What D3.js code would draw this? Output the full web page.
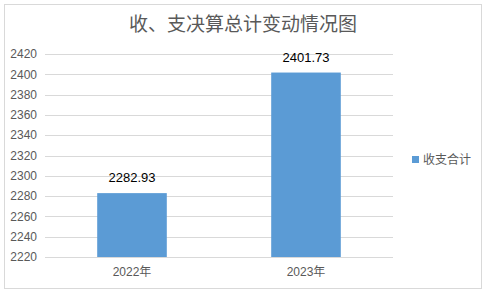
<!DOCTYPE html>
<html>
<head>
<meta charset="utf-8">
<script src="https://cdn.jsdelivr.net/npm/d3@7"></script>
<style>
  body { margin: 0; background: #fff; }
  text { font-family: "Liberation Sans", "Noto Sans CJK SC", sans-serif; }
</style>
</head>
<body>
<svg width="486" height="294"></svg>
<script>
const BAR_COLOR = '#5b9bd5';
const GRID_COLOR = '#d9d9d9';
const TEXT_COLOR = '#595959';

const categories = ['2022年', '2023年'];
const totals = [2282.93, 2401.73];
const yTicks = [2220, 2240, 2260, 2280, 2300, 2320, 2340, 2360, 2380, 2400, 2420];
const seriesName = '收支合计';
const title = '收、支决算总计变动情况图';

const margin = { left: 45, right: 93, top: 54, bottom: 37 };
const width = 486 - margin.left - margin.right;
const height = 294 - margin.top - margin.bottom;

const root = d3.select('svg');

/* outer frame */
root.append('rect')
    .attr('x', 4.5).attr('y', 4.5)
    .attr('width', 477).attr('height', 284)
    .attr('fill', '#fff')
    .attr('stroke', GRID_COLOR);

root.append('text')
    .attr('x', 243).attr('y', 31)
    .attr('text-anchor', 'middle')
    .attr('fill', TEXT_COLOR)
    .attr('font-size', 19)
    .text(title);

var svg = root.append('g')
    .attr('transform', 'translate(' + margin.left + ',' + margin.top + ')');

var x = d3.scaleBand()
    .domain(categories)
    .range([0, width]);

var y = d3.scaleLinear()
    .domain([2220, 2420])
    .range([height, 0]);

/* grid + y labels */
svg.append('g')
    .selectAll('line')
    .data(yTicks)
    .join('line')
    .attr('x1', 0).attr('x2', width)
    .attr('y1', d => Math.round(y(d)) + 0.5)
    .attr('y2', d => Math.round(y(d)) + 0.5)
    .attr('stroke', GRID_COLOR);

svg.append('g')
    .selectAll('text')
    .data(yTicks)
    .join('text')
    .attr('x', -8)
    .attr('y', d => y(d))
    .attr('dy', '0.35em')
    .attr('text-anchor', 'end')
    .attr('fill', TEXT_COLOR)
    .attr('font-size', 12)
    .text(d => d);

/* bars */
var barW = x.bandwidth() * 0.4;
svg.append('g')
    .selectAll('rect')
    .data(totals)
    .join('rect')
    .attr('x', (d, i) => x(categories[i]) + (x.bandwidth() - barW) / 2)
    .attr('y', d => y(d))
    .attr('width', barW)
    .attr('height', d => height - y(d))
    .attr('fill', BAR_COLOR);

svg.append('g')
    .selectAll('text')
    .data(totals)
    .join('text')
    .attr('x', (d, i) => x(categories[i]) + x.bandwidth() / 2)
    .attr('y', d => y(d) - 11)
    .attr('text-anchor', 'middle')
    .attr('fill', '#000')
    .attr('font-size', 13)
    .text(d => d.toFixed(2));

/* x labels */
svg.append('g')
    .selectAll('text')
    .data(categories)
    .join('text')
    .attr('x', d => x(d) + x.bandwidth() / 2)
    .attr('y', height + 19)
    .attr('text-anchor', 'middle')
    .attr('fill', TEXT_COLOR)
    .attr('font-size', 12)
    .text(d => d);

/* legend */
var legend = root.append('g')
    .attr('transform', 'translate(412,156)');
legend.append('rect')
    .attr('width', 7).attr('height', 7)
    .attr('fill', BAR_COLOR);
legend.append('text')
    .attr('x', 11).attr('y', 3.5)
    .attr('dy', '0.35em')
    .attr('fill', TEXT_COLOR)
    .attr('font-size', 12)
    .text(seriesName);
</script>
</body>
</html>
